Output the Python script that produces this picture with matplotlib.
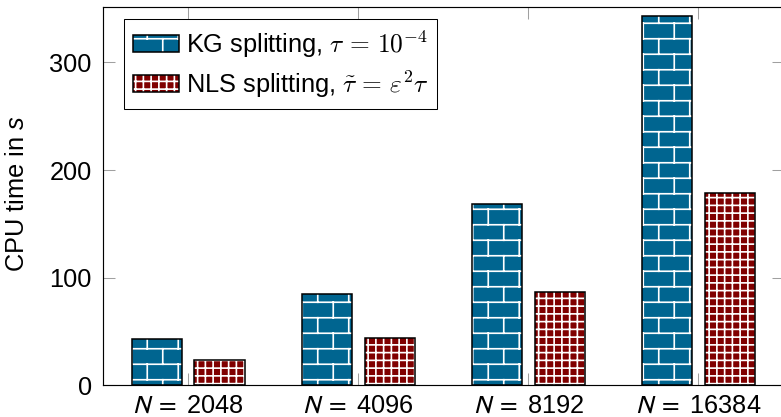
import warnings
import numpy as np
import matplotlib
matplotlib.use('Agg')
import matplotlib.pyplot as plt
import matplotlib.hatch as mhatch
from matplotlib.path import Path
from matplotlib.font_manager import FontProperties
from matplotlib.legend_handler import HandlerTuple

warnings.filterwarnings('ignore')

# CPU times (seconds) per grid size
grid_sizes = ['2048', '4096', '8192', '16384']
kg_time = [43, 85, 168, 343]
nls_time = [24, 44, 87, 179]

KG_BLUE = '#006590'
NLS_RED = '#800000'
FS = 19.7
DPI = 93


class BrickHatch(mhatch.HatchPatternBase):
    """Brick wall hatch, selected by the letter 'b' in a hatch string."""

    def __init__(self, hatch, density):
        n = hatch.count('b')
        self.rows = 6 * n
        self.bricks = 3 * n
        if n == 0:
            self.num_vertices = 0
        else:
            nseg = self.rows + (self.rows + 1) * self.bricks
            self.num_vertices = 2 * nseg

    def set_vertices_and_codes(self, vertices, codes):
        n, k = self.rows, self.bricks
        segs = []
        for i in range(n):
            y = (i + 0.5) / n
            segs.append(((0.0, y), (1.0, y)))
        for j in range(n):
            y0 = (j + 0.5) / n
            y1 = (j + 1.5) / n
            for m in range(k):
                xv = (m + 0.5 * (j % 2) + 0.25) / k
                if y1 <= 1.0:
                    segs.append(((xv, y0), (xv, y1)))
                else:
                    segs.append(((xv, y0), (xv, 1.0)))
                    segs.append(((xv, 0.0), (xv, y1 - 1.0)))
        pts = np.array(segs).reshape(-1, 2)
        vertices[:] = pts
        codes[0::2] = Path.MOVETO
        codes[1::2] = Path.LINETO


mhatch._hatch_types.append(BrickHatch)

plt.rcParams['font.family'] = ['Liberation Sans', 'DejaVu Sans']
plt.rcParams['mathtext.fontset'] = 'custom'
plt.rcParams['mathtext.rm'] = 'Liberation Sans'
plt.rcParams['mathtext.it'] = 'Liberation Sans:italic'
plt.rcParams['hatch.linewidth'] = 1.3

fig = plt.figure(figsize=(781.2 / DPI, 417.2 / DPI), dpi=DPI)
ax = fig.add_axes([103.3 / 781, (417 - 385.5) / 417, 680 / 781, 378.2 / 417])

x = np.arange(len(grid_sizes))
width = 0.296
off = 0.184

# hatched fill first, black outline drawn on top
kg_fill = ax.bar(x - off, kg_time, width, color=KG_BLUE, edgecolor='white',
                 linewidth=0, hatch='b', zorder=2)
kg_edge = ax.bar(x - off, kg_time, width, fill=False, edgecolor='black',
                 linewidth=1.2, zorder=3)
nls_fill = ax.bar(x + off, nls_time, width, color=NLS_RED, edgecolor='white',
                  linewidth=0, hatch='++', zorder=2)
nls_edge = ax.bar(x + off, nls_time, width, fill=False, edgecolor='black',
                  linewidth=1.2, zorder=3)

ax.set_xlim(-0.5, 3.5)
ax.set_ylim(0, 351)
ax.set_xticks(x)
ax.set_xticklabels([r'$N\;=$ ' + s for s in grid_sizes], fontsize=FS,
                   math_fontfamily='stixsans')
ax.set_yticks([0, 100, 200, 300])
ax.tick_params(axis='both', direction='in', length=9, width=0.8,
               color='#a0a0a0', labelsize=FS, top=True, right=True)
ax.tick_params(axis='x', pad=6.5)
ax.tick_params(axis='y', pad=9)
for sp in ax.spines.values():
    sp.set_linewidth(0.9)
    sp.set_zorder(4)

ax.set_ylabel(r'CPU time in $s$', fontsize=FS, va='center')
ax.yaxis.set_label_coords(-0.127, 0.508)

leg_font = FontProperties(family='Liberation Sans', size=FS, math_fontfamily='cm')
leg = ax.legend([(kg_fill[0], kg_edge[0]), (nls_fill[0], nls_edge[0])],
                [r'KG splitting, $\tau\,=\,\mathsf{10}^{-\mathsf{4}}$',
                 r'NLS splitting, $\tilde{\tau}\,=\,\varepsilon^{\mathsf{2}}\tau$'],
                handler_map={tuple: HandlerTuple(ndivide=1)},
                loc='upper left', bbox_to_anchor=(0.0304, 0.968),
                borderaxespad=0, prop=leg_font, fancybox=False,
                edgecolor='black', framealpha=1, handlelength=1.81,
                handleheight=0.63, handletextpad=0.26, borderpad=0.35,
                labelspacing=0.35)
leg.get_frame().set_linewidth(0.8)
leg.set_zorder(5)

fig.savefig('out.png', dpi=DPI)
